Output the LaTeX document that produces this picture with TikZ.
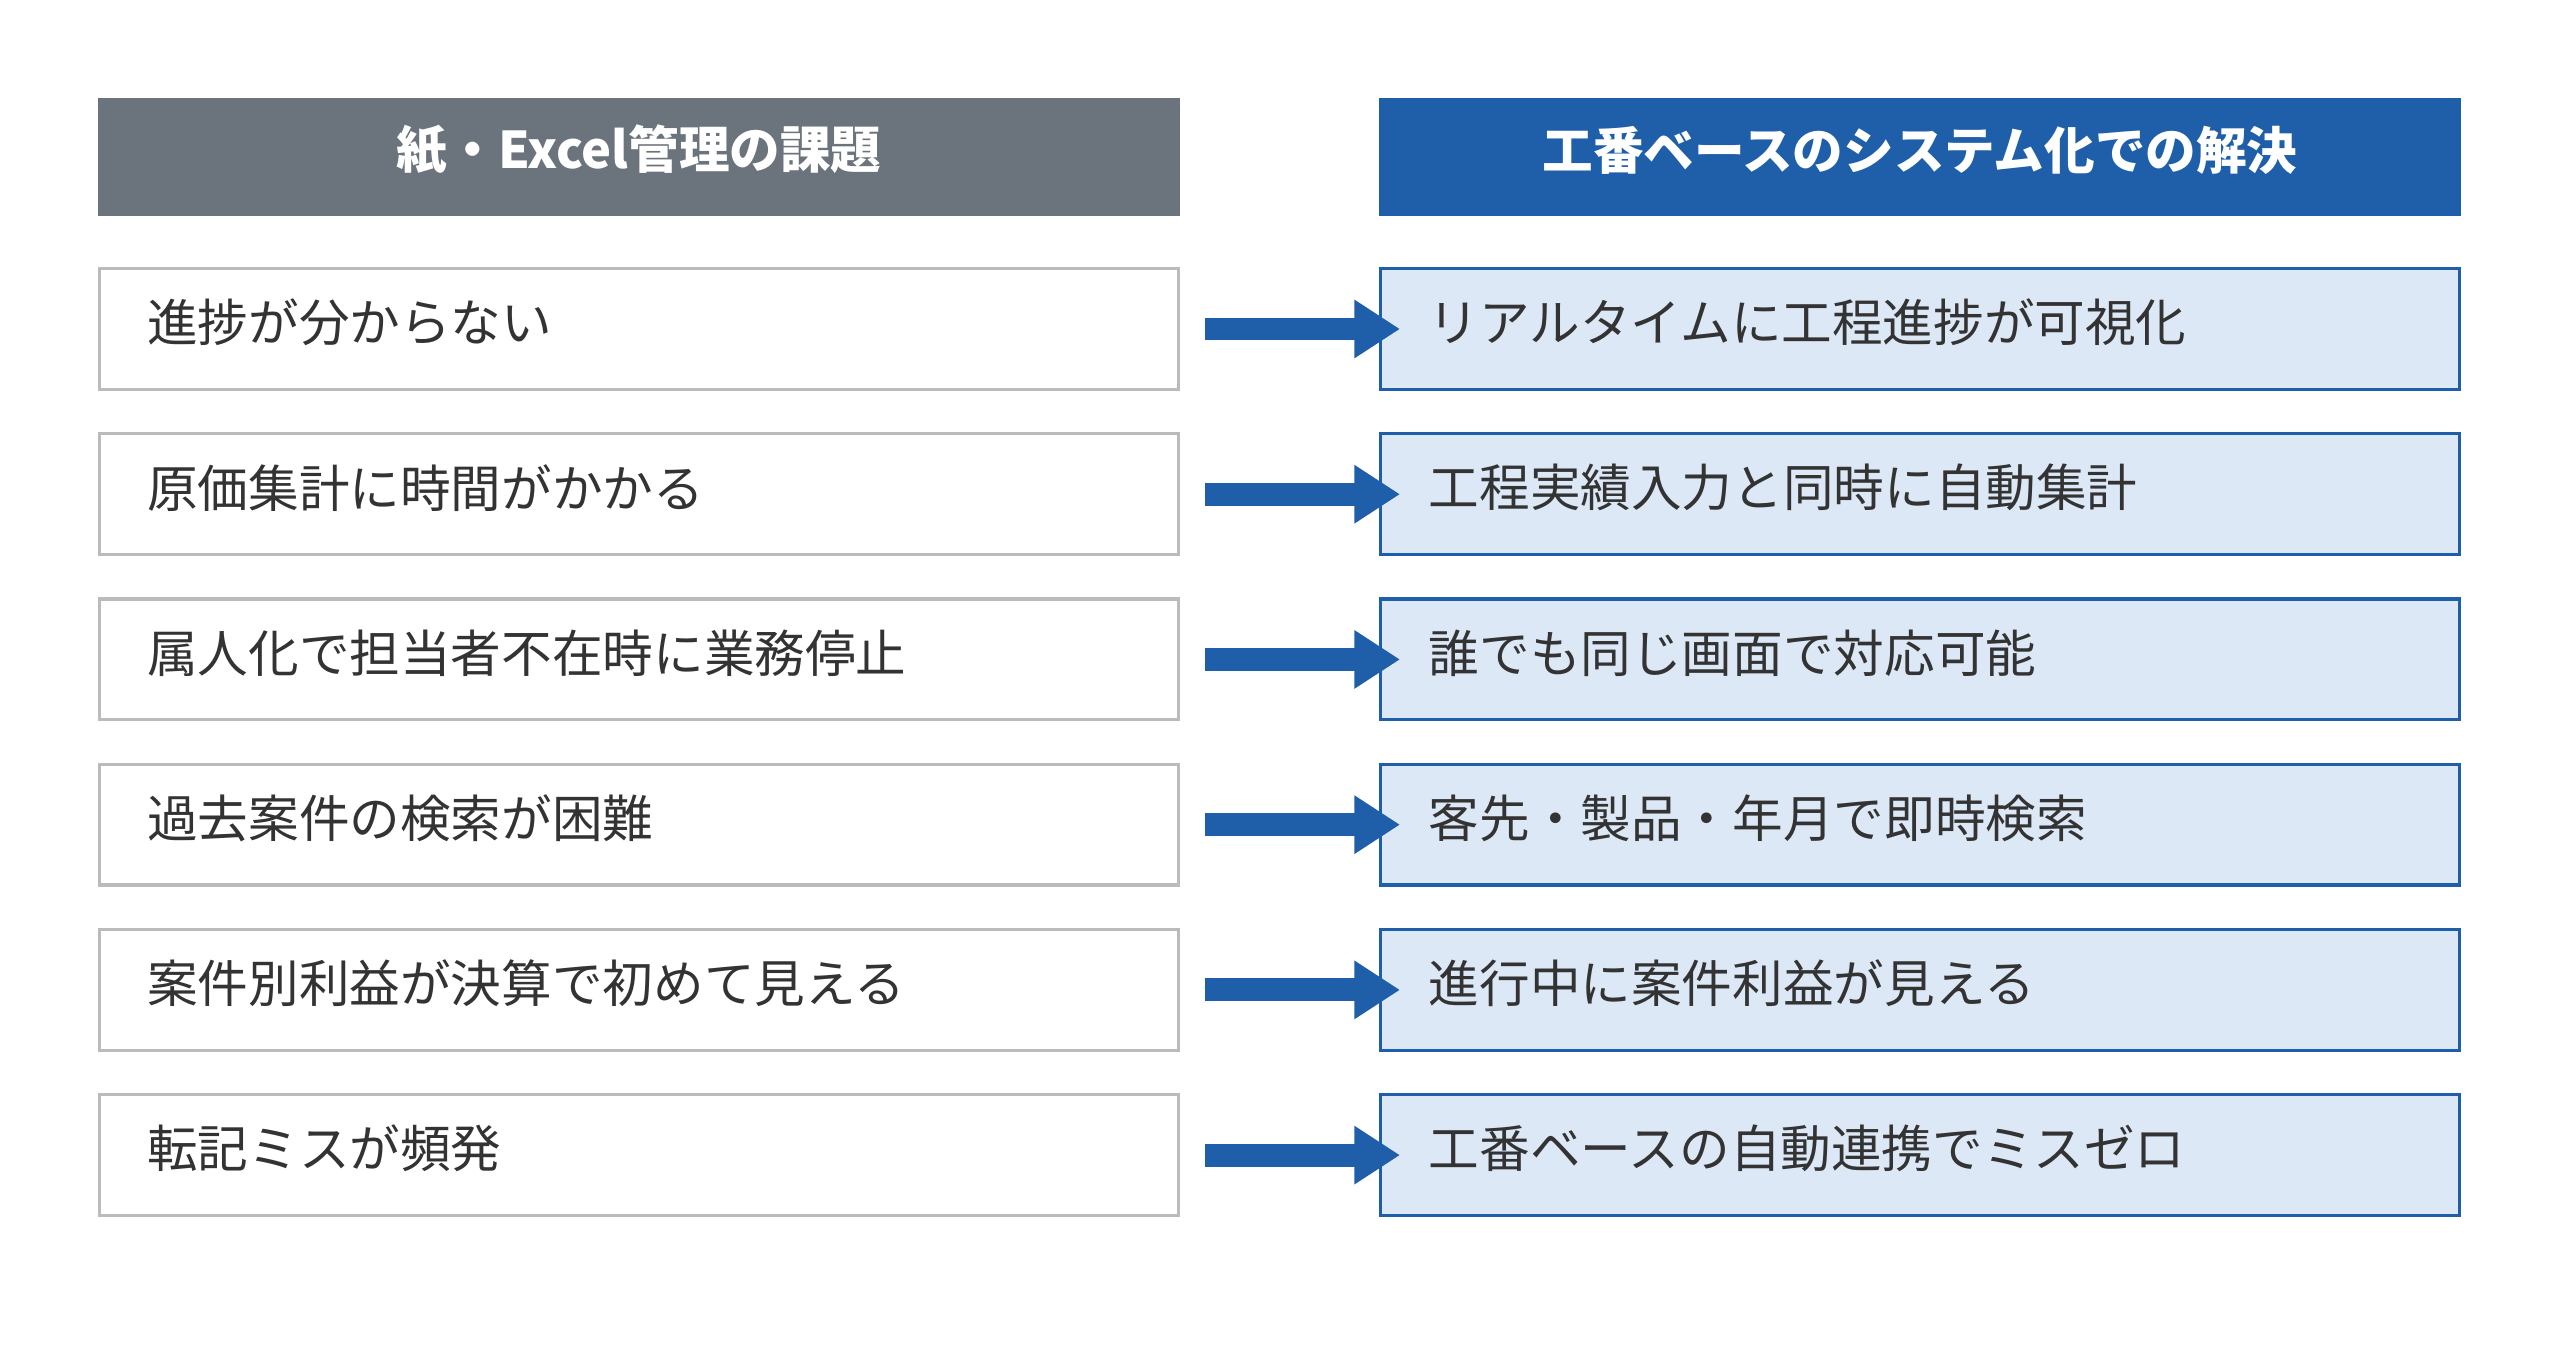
\documentclass[tikz,border=0pt]{standalone}
\usepackage{fontspec}
\setmainfont{Noto Sans CJK JP}
\usetikzlibrary{arrows.meta}
\definecolor{hgray}{HTML}{6B737D}
\definecolor{hblue}{HTML}{1F5FAA}
\definecolor{lblue}{HTML}{DDE8F7}
\definecolor{bgray}{HTML}{BBBBBB}
\definecolor{txt}{HTML}{333333}
\begin{document}
\begin{tikzpicture}[x=1pt,y=-1pt,
 hdr/.style={minimum width=663pt,minimum height=72pt,inner sep=0pt,text=white,font=\fontsize{31}{33}\selectfont\bfseries},
 hlab/.style={text=white,font=\fontsize{31}{33}\selectfont\bfseries,inner sep=0pt},
 lbox/.style={draw=bgray,line width=2pt,fill=white,minimum width=661pt,minimum height=74pt,inner sep=0pt},
 rbox/.style={draw=hblue,line width=2pt,fill=lblue,minimum width=661pt,minimum height=74pt,inner sep=0pt},
 lbl/.style={anchor=west,text=txt,font=\fontsize{31}{33}\selectfont,inner sep=0pt},
 arr/.style={draw=hblue,line width=14pt,-{Triangle[length=28pt,width=34pt]},shorten <=15pt,shorten >=-13pt}]
\useasboundingbox (0,0) rectangle (1568,831);
\node[hdr,fill=hgray] (hl) at (391.5,96) {};
\node[hdr,fill=hblue] (hr) at (1176,96) {};
\node[hlab] (hlt) at (391.5,92) {紙・Excel管理の課題};
\node[hlab] (hrt) at (1176,92) {工番ベースのシステム化での解決};
\foreach \i/\a/\b in {0/進捗が分からない/リアルタイムに工程進捗が可視化,
 1/原価集計に時間がかかる/工程実績入力と同時に自動集計,
 2/属人化で担当者不在時に業務停止/誰でも同じ画面で対応可能,
 3/過去案件の検索が困難/客先・製品・年月で即時検索,
 4/案件別利益が決算で初めて見える/進行中に案件利益が見える,
 5/転記ミスが頻発/工番ベースの自動連携でミスゼロ}{
 \pgfmathsetmacro\y{201.5+101.2*\i}
 \node[lbox] (l\i) at (391.5,\y) {};
 \node[rbox] (r\i) at (1176,\y) {};
 \node[lbl] (lt\i) at (90,\y-4) {\a};
 \node[lbl] (rt\i) at (875,\y-4) {\b};
 \draw[arr] (l\i.east) -- (r\i.west);
}
\end{tikzpicture}
\end{document}
